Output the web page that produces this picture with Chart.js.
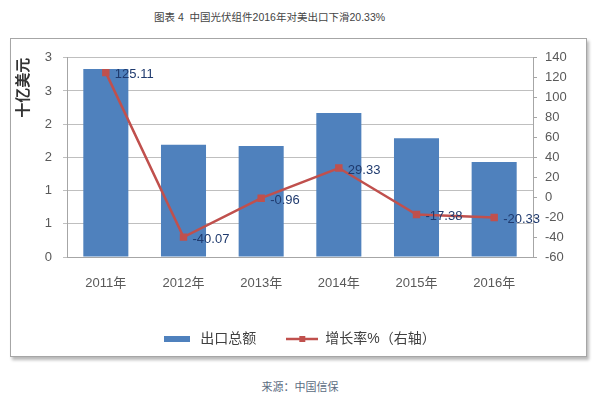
<!DOCTYPE html>
<html lang="zh">
<head>
    <meta charset="UTF-8">
    <title>中国光伏组件对美出口</title>
    <style>
        body {
            margin: 0;
            width: 600px;
            height: 399px;
            background: #fff;
            position: relative;
            font-family: 'Liberation Sans', 'Noto Sans CJK SC', sans-serif;
        }
        #chart-title {
            position: absolute;
            left: 154px;
            top: 9px;
            font-size: 10.5px;
            color: #444;
            white-space: nowrap;
        }
        #chart-box {
            position: absolute;
            left: 10px;
            top: 38px;
            width: 575px;
            height: 317px;
            border: 1px solid #a6a6a6;
            box-shadow: 2px 3px 3px #b8b8b8;
            background: #fff;
        }
        #source {
            position: absolute;
            left: 0;
            width: 600px;
            top: 378px;
            text-align: center;
            font-size: 11px;
            color: #5b6c82;
        }
    </style>
</head>
<body>
<div id="chart-title">图表 4&nbsp;&nbsp;中国光伏组件2016年对美出口下滑20.33%</div>
<div id="chart-box">
    <canvas id="export-chart" width="575" height="317"></canvas>
</div>
<div id="source">来源：中国信保</div>
<script src="https://cdn.jsdelivr.net/npm/chart.js"></script>
<script>
    const years = ['2011年', '2012年', '2013年', '2014年', '2015年', '2016年'];
    const exportTotal = [2.83, 1.69, 1.67, 2.17, 1.79, 1.43];   // 十亿美元
    const growthRate = [125.11, -40.07, -0.96, 29.33, -17.38, -20.33]; // %
    const growthLabels = ['125.11', '-40.07', '-0.96', '29.33', '-17.38', '-20.33'];

    const FONT = "'Liberation Sans', 'Noto Sans CJK SC', sans-serif";
    const BLUE = '#4f81bd';
    const RED = '#c0504d';

    // legend swatches
    const barSwatch = document.createElement('canvas');
    barSwatch.width = 26;
    barSwatch.height = 6;
    let sctx = barSwatch.getContext('2d');
    sctx.fillStyle = BLUE;
    sctx.fillRect(0, 0, 26, 6);

    const lineSwatch = document.createElement('canvas');
    lineSwatch.width = 32;
    lineSwatch.height = 8;
    sctx = lineSwatch.getContext('2d');
    sctx.strokeStyle = RED;
    sctx.lineWidth = 2.5;
    sctx.beginPath();
    sctx.moveTo(0, 4);
    sctx.lineTo(32, 4);
    sctx.stroke();
    sctx.fillStyle = RED;
    sctx.fillRect(13, 1, 6, 6);

    const pointLabels = {
        id: 'pointLabels',
        afterDatasetsDraw(chart) {
            const meta = chart.getDatasetMeta(1);
            const ctx = chart.ctx;
            ctx.save();
            ctx.font = '13px ' + FONT;
            ctx.fillStyle = '#1f3a6e';
            ctx.textAlign = 'left';
            ctx.textBaseline = 'middle';
            meta.data.forEach((pt, i) => {
                ctx.fillText(growthLabels[i], pt.x + 9, pt.y + 2);
            });
            ctx.restore();
        }
    };

    const chart = new Chart(document.getElementById('export-chart'), {
        type: 'bar',
        data: {
            labels: years,
            datasets: [{
                label: '出口总额',
                data: exportTotal,
                backgroundColor: BLUE,
                yAxisID: 'y',
                categoryPercentage: 1,
                barPercentage: 0.58,
                order: 2
            }, {
                type: 'line',
                label: '增长率%（右轴）',
                data: growthRate,
                borderColor: RED,
                backgroundColor: RED,
                borderWidth: 2.5,
                pointStyle: 'rect',
                pointRadius: 3.5,
                yAxisID: 'y1',
                order: 1
            }]
        },
        options: {
            responsive: false,
            animation: false,
            layout: { padding: { top: 16, bottom: 0, left: 0, right: 0 } },
            plugins: {
                tooltip: { enabled: false },
                legend: {
                    position: 'bottom',
                    labels: {
                        usePointStyle: true,
                        pointStyleWidth: 32,
                        padding: 30,
                        color: '#404040',
                        font: { size: 14, family: FONT },
                        generateLabels(chart) {
                            return chart.data.datasets.map((ds, i) => ({
                                text: ds.label,
                                pointStyle: i === 0 ? barSwatch : lineSwatch,
                                fontColor: '#404040',
                                lineWidth: 0,
                                datasetIndex: i
                            }));
                        }
                    }
                }
            },
            scales: {
                x: {
                    grid: { display: false },
                    border: { display: true, color: '#a6a6a6' },
                    ticks: {
                        color: '#595959',
                        padding: 11,
                        font: { size: 13, family: FONT }
                    },
                    afterFit(scale) { scale.height = 45; }
                },
                y: {
                    position: 'left',
                    min: 0,
                    max: 3,
                    afterBuildTicks(scale) {
                        scale.ticks = [0, 0.5, 1, 1.5, 2, 2.5, 3].map(v => ({ value: v }));
                    },
                    grid: { color: '#bfbfbf', tickLength: 4 },
                    border: { display: true, color: '#a6a6a6' },
                    ticks: {
                        color: '#595959',
                        padding: 11,
                        font: { size: 13, family: FONT },
                        callback: v => Math.round(v)
                    },
                    title: {
                        display: true,
                        text: '十亿美元',
                        align: 'end',
                        color: '#333',
                        padding: { top: 4, bottom: 0 },
                        font: { size: 15, weight: 'bold', family: FONT }
                    },
                    afterFit(scale) { scale.width = 56; }
                },
                y1: {
                    position: 'right',
                    min: -60,
                    max: 140,
                    grid: { drawOnChartArea: false, color: '#a6a6a6', tickLength: 4 },
                    border: { display: true, color: '#a6a6a6' },
                    ticks: {
                        stepSize: 20,
                        autoSkip: false,
                        color: '#595959',
                        padding: 8,
                        font: { size: 13, family: FONT }
                    },
                    afterFit(scale) { scale.width = 53; }
                }
            }
        },
        plugins: [pointLabels]
    });
</script>
</body>
</html>
